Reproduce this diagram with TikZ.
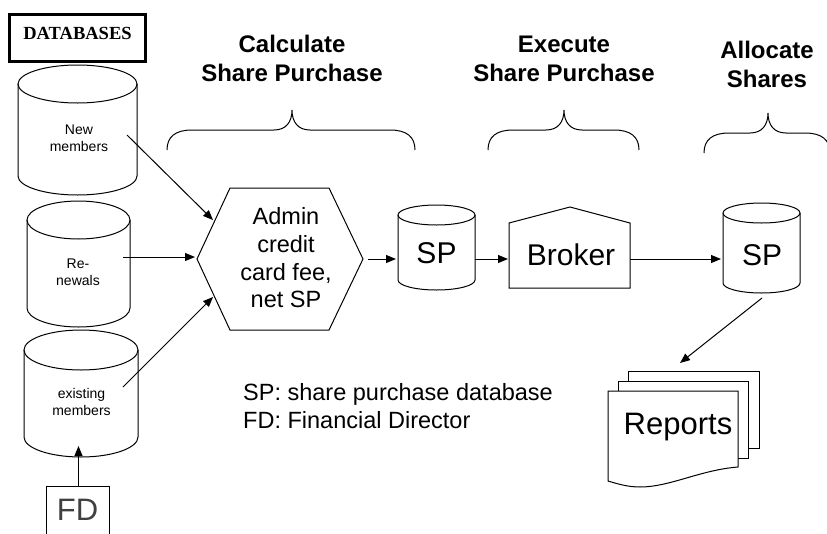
\documentclass[tikz,border=0pt]{standalone}
\usepackage{fontspec}
\setmainfont{Liberation Sans}
\newfontfamily\serifbold{Liberation Serif}
\usetikzlibrary{arrows.meta}

\tikzset{
  ln/.style={line width=1pt, draw=black},
  arr/.style={ln, -{Triangle[length=10pt,width=8pt]}},
  txt/.style={inner sep=0pt, align=center},
  smalltxt/.style={txt, font=\fontsize{14}{17}\selectfont},
  midtxt/.style={txt, font=\fontsize{23.5}{27.7}\selectfont},
  bigtxt/.style={inner sep=0pt, font=\fontsize{30}{34}\selectfont},
  headtxt/.style={txt, font=\bfseries\fontsize{24}{29}\selectfont},
  sheet/.style={ln, fill=white},
}

% upright drum (database symbol): centre x, top y, bottom y, x radius, y radius
\newcommand\drumshape[5]{%
  \draw[ln] (#1-#4,#2+#5) -- (#1-#4,#3-#5)
    arc[start angle=180, end angle=0, x radius=#4, y radius=#5]
    -- (#1+#4,#2+#5);
  \draw[ln] (#1,#2+#5) ellipse [x radius=#4, y radius=#5];
}
% curly brace over a phase: left x, tip x, right x, tip y
\newcommand\phasebrace[4]{%
  \draw[ln] (#1,#4+40) .. controls (#1,#4+27) and (#1+8,#4+20) .. (#1+25,#4+20)
    -- (#2-18,#4+20) .. controls (#2-6,#4+20) and (#2,#4+12) .. (#2,#4)
    .. controls (#2,#4+12) and (#2+6,#4+20) .. (#2+18,#4+20)
    -- (#3-25,#4+20) .. controls (#3-8,#4+20) and (#3,#4+27) .. (#3,#4+40);
}

\begin{document}
\begin{tikzpicture}[x=1pt,y=-1pt]
\useasboundingbox (0,0) rectangle (827,533);

% title
\node[draw, line width=3pt, minimum width=136pt, minimum height=47pt, inner sep=0pt] (dbbox) at (77.5,38) {};
\node[inner sep=0pt, font=\serifbold\bfseries\fontsize{18.5}{20}\selectfont] (dbtitle) at (77.5,33) {DATABASES};

% source databases
\drumshape{77.5}{65}{195}{59.5}{19}
\node[smalltxt] (newm) at (79,138.5) {New\\members};
\drumshape{78.5}{201}{327}{51.5}{19}
\node[smalltxt] (renew) at (78,272) {Re-\\newals};
\drumshape{81}{330}{457}{57}{20}
\node[smalltxt] (exist) at (81.5,402) {existing\\members};

% financial director
\draw[ln] (46,545) -- (46,486) -- (109,486) -- (109,545);
\node[bigtxt, anchor=base, text=black!75, font=\fontsize{31}{35}\selectfont] (fd) at (77.5,520) {FD};

% calculation step
\draw[ln] (197,259) -- (230,188) -- (329,188) -- (363,259) -- (329,330) -- (230,330) -- cycle;
\node[midtxt] (calc) at (286,258) {Admin\\credit\\card fee,\\net SP};

% share purchase database
\drumshape{436.5}{205}{290}{38.5}{10}
\node[bigtxt, anchor=base] (sp1) at (436.5,263) {SP};

% broker
\draw[ln] (509,223) -- (570,207) -- (630,223) -- (630,288) -- (509,288) -- cycle;
\node[bigtxt, anchor=base] (broker) at (571,265) {Broker};

% allocated share purchases
\drumshape{761.5}{203}{293}{38.5}{10}
\node[bigtxt, anchor=base] (sp2) at (762,265) {SP};

% report stack
\draw[sheet] (628,371) rectangle (759,448);
\draw[sheet] (618,381) rectangle (748,458);
\draw[sheet] (608,391) -- (738,391) -- (738,467)
  .. controls (700,470) and (670,487) .. (640,487)
  .. controls (628,487) and (618,484) .. (608,481) -- cycle;
\node[bigtxt, anchor=base, font=\fontsize{31}{35}\selectfont] (reports) at (678,434) {Reports};

% phase headings and braces
\node[headtxt] (hcalc) at (292,58.7) {Calculate\\Share Purchase};
\node[headtxt] (hexec) at (564,58.7) {Execute\\Share Purchase};
\node[headtxt] (halloc) at (767,64) {Allocate\\Shares};
\phasebrace{167}{292}{415}{110}
\phasebrace{488}{564}{639}{110}
\phasebrace{704}{768}{830}{113}

% legend
\node[txt, align=left, anchor=west, font=\fontsize{23.5}{28}\selectfont] (legend) at (243,406)
  {SP: share purchase database\\FD: Financial Director};

% connector ends
\coordinate (newm-out) at (127,135);
\coordinate (calc-in1) at (213,220);
\coordinate (renew-out) at (123,257);
\coordinate (calc-in2) at (195,257);
\coordinate (exist-out) at (123,387);
\coordinate (calc-in3) at (213,297);
\coordinate (calc-out) at (368,259);
\coordinate (sp1-in) at (396,259);
\coordinate (sp1-out) at (475,259);
\coordinate (broker-in) at (508,259);
\coordinate (broker-out) at (630,259);
\coordinate (sp2-in) at (721,259);
\coordinate (sp2-out) at (762,298);
\coordinate (reports-in) at (680,363);
\coordinate (fd-out) at (78.5,486);
\coordinate (exist-in) at (78.5,446);

% flow
\draw[arr] (newm-out) -- (calc-in1);
\draw[arr] (renew-out) -- (calc-in2);
\draw[arr] (exist-out) -- (calc-in3);
\draw[arr] (calc-out) -- (sp1-in);
\draw[arr] (sp1-out) -- (broker-in);
\draw[arr] (broker-out) -- (sp2-in);
\draw[arr] (sp2-out) -- (reports-in);
\draw[arr] (fd-out) -- (exist-in);
\end{tikzpicture}
\end{document}
